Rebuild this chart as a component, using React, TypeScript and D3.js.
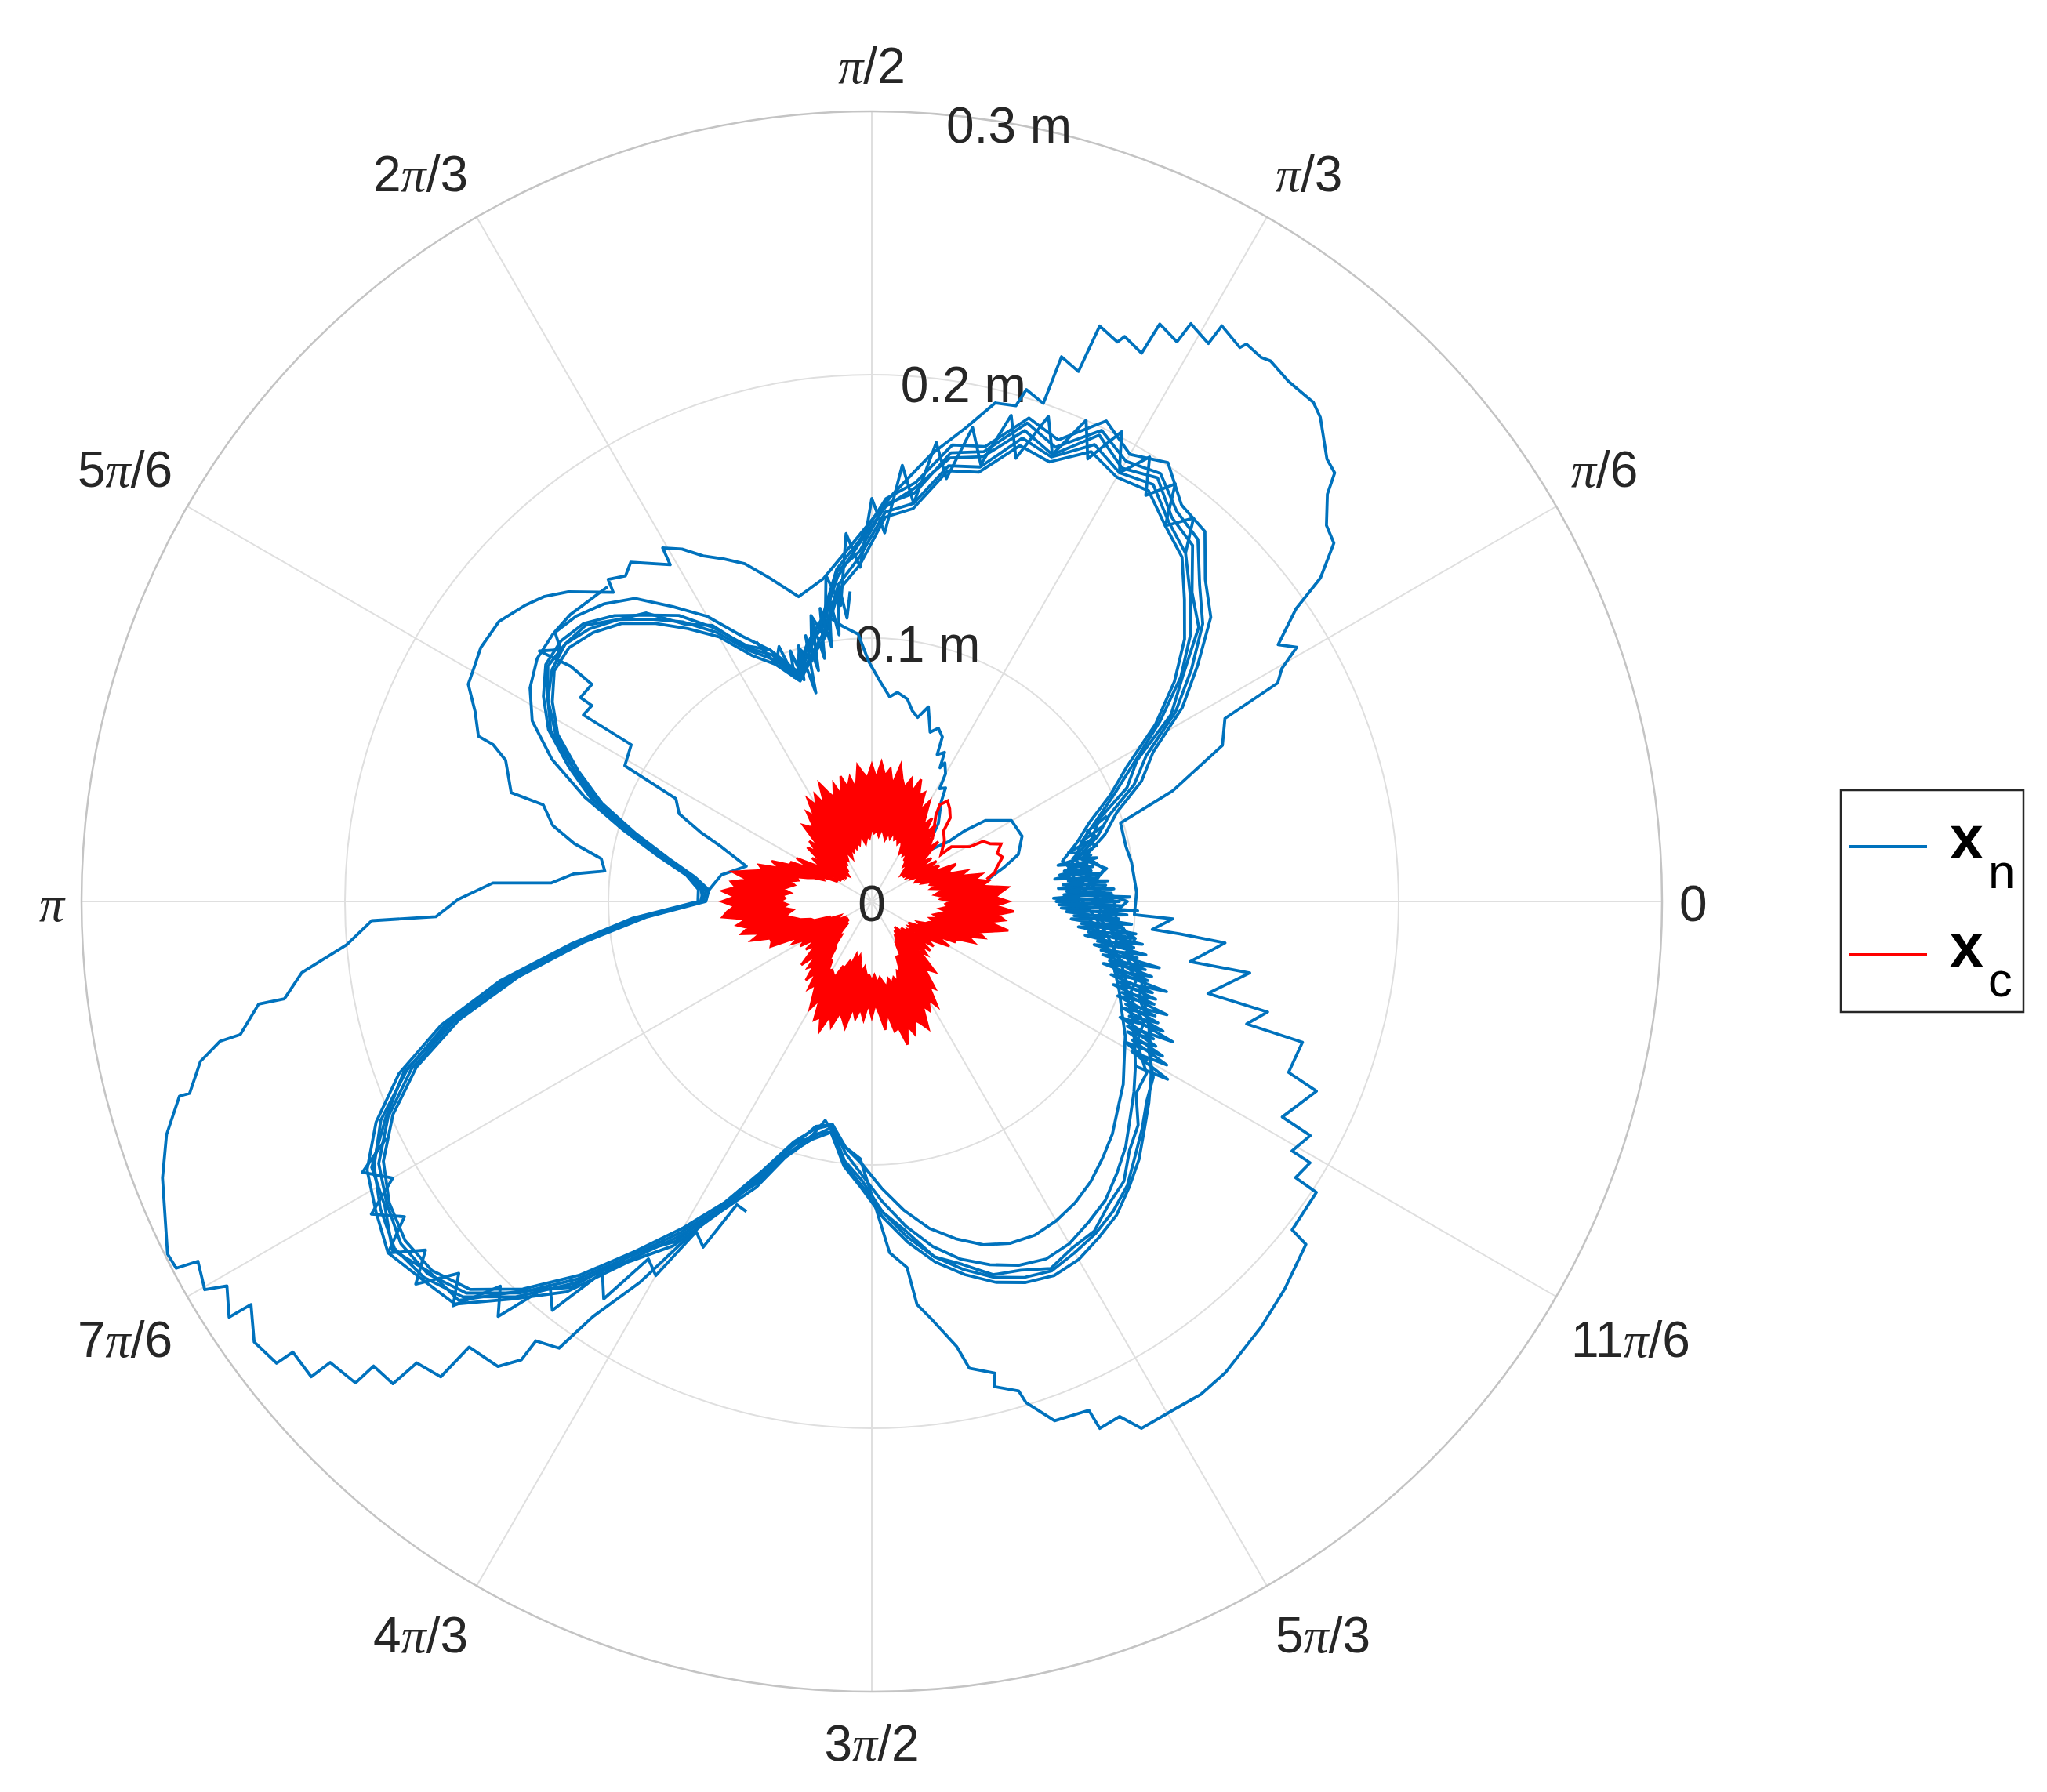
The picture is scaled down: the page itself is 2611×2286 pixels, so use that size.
import React from 'react';
import * as d3 from 'd3';

// ---------- layout ----------
const W = 2611, H = 2286;
const CX = 1112, CY = 1150, R_PX = 1008;

// ---------- axes ----------
const rTicks = [0, 0.1, 0.2, 0.3];
const rTickLabels = ['0', '0.1 m', '0.2 m', '0.3 m'];
const rLabelAngle = 80;
const thetaTicks = [0, 30, 60, 90, 120, 150, 180, 210, 240, 270, 300, 330];
const thetaTickLabels = ['0', 'π/6', 'π/3', 'π/2', '2π/3', '5π/6', 'π', '7π/6', '4π/3', '3π/2', '5π/3', '11π/6'];

// ---------- data (angle in degrees, radius in m) ----------
const bundleAngles = [0,4,8,12,16,20,24,28,32,36,40,44,48,52,56,60,64,68,72,76,80,84,88,92,96,100,104,108,112,116,120,124,128,132,136,140,144,148,152,156,160,164,168,172,176,180,184,188,192,196,200,204,208,212,216,220,224,228,232,236,240,244,248,252,256,260,264,268,272,276,280,284,288,292,296,300,304,308,312,316,320,324,328,332,336,340,344,348,352,356];

const loop1 = [.088,.079,.084,.078,.087,.092,.106,.114,.134,.146,
  .162,.169,.182,.185,.194,.190,.197,.183,.188,.174,
  .171,.158,.150,.136,.124,.108,.098,.090,.101,.107,
  .121,.127,.139,.144,.151,.152,.152,.145,.138,.124,
  .112,.094,.081,.069,.065,.064,.090,.112,.142,.166,
  .189,.202,.215,.218,.225,.219,.218,.199,.186,.161,
  .149,.128,.115,.097,.092,.087,.099,.106,.118,.126,
  .137,.142,.149,.151,.155,.152,.151,.146,.143,.136,
  .132,.124,.123,.114,.113,.104,.105,.094,.094,.086];
const loop2 = [.092,.084,.089,.083,.092,.099,.112,.121,.139,.153,
  .168,.176,.189,.191,.201,.196,.203,.189,.193,.178,
  .176,.160,.153,.137,.127,.109,.101,.092,.103,.112,
  .125,.135,.146,.152,.156,.158,.157,.153,.146,.133,
  .116,.098,.083,.071,.066,.066,.091,.115,.144,.170,
  .191,.206,.217,.222,.227,.223,.220,.203,.188,.165,
  .151,.131,.117,.100,.093,.089,.101,.109,.120,.130,
  .139,.146,.152,.156,.158,.157,.154,.151,.146,.141,
  .135,.130,.125,.120,.115,.110,.108,.101,.099,.093];
const loop3 = [.080,.075,.078,.074,.081,.088,.099,.110,.127,.142,
  .155,.165,.176,.181,.188,.186,.190,.180,.182,.168,
  .166,.150,.146,.128,.119,.102,.095,.088,.097,.104,
  .116,.125,.134,.142,.147,.150,.149,.143,.135,.122,
  .109,.093,.079,.068,.062,.063,.086,.110,.137,.163,
  .184,.199,.210,.216,.219,.218,.212,.198,.180,.160,
  .143,.127,.110,.096,.089,.086,.096,.104,.114,.124,
  .133,.140,.145,.149,.151,.150,.147,.144,.139,.134,
  .128,.123,.118,.113,.108,.103,.100,.095,.090,.085];
const loop4 = [.097,.082,.090,.080,.089,.096,.109,.118,.136,.150,
  .164,.173,.185,.188,.196,.193,.199,.186,.191,.176,
  .173,.156,.151,.133,.126,.106,.100,.091,.103,.108,
  .120,.131,.138,.146,.152,.154,.153,.147,.139,.126,
  .113,.096,.082,.070,.064,.065,.089,.114,.141,.168,
  .188,.204,.214,.220,.224,.222,.216,.202,.184,.164,
  .147,.131,.113,.100,.091,.089,.100,.108,.118,.128,
  .137,.144,.150,.154,.156,.154,.152,.149,.145,.139,
  .134,.129,.126,.119,.116,.108,.107,.098,.101,.090];
const loop5 = [.076,.080,.074,.079,.083,.091,.101,.113,.129,.145,
  .158,.168,.178,.183,.191,.188,.193,.182,.185,.170,
  .168,.152,.148,.131,.121,.104,.096,.089,.099,.106,
  .118,.128,.136,.144,.149,.152,.150,.145,.136,.124,
  .110,.094,.080,.069,.063,.064,.087,.112,.139,.165,
  .186,.201,.212,.217,.221,.220,.214,.200,.182,.162,
  .145,.129,.111,.098,.088,.086,.094,.100,.109,.118,
  .126,.132,.137,.140,.141,.140,.138,.135,.131,.127,
  .122,.118,.113,.109,.104,.100,.096,.092,.088,.082];

// dense jitter of the bundle around 0 rad
const noiseA: [number, number][] = [
  [328,.118],[329,.131],[330,.114],[331,.128],[332,.112],[333,.121],[334,.108],[335,.126],[336,.107],[337,.118],
  [338,.104],[339,.120],[340,.101],[341,.114],[342,.098],[343,.117],[344,.096],[345,.110],[346,.093],[347,.112],
  [348,.089],[349,.106],[350,.087],[351,.104],[352,.083],[353,.101],[354,.080],[355,.099],[356,.077],[357,.097],
  [358,.072],[359,.095],[0,.070],[1,.098],[2,.073],[3,.092],[4,.071],[5,.090],[6,.075],[7,.088],
  [8,.072],[9,.085],[10,.076],[11,.087],[12,.079],[14,.088],[16,.083],[18,.092]
];
const noiseB: [number, number][] = [
  [330,.121],[331,.110],[332,.125],[333,.109],[334,.119],[335,.104],[336,.121],[337,.103],[338,.116],[339,.100],
  [340,.114],[341,.097],[342,.112],[343,.095],[344,.109],[345,.091],[346,.107],[347,.090],[348,.103],[349,.086],
  [350,.101],[351,.082],[352,.100],[353,.079],[354,.096],[355,.076],[356,.094],[357,.074],[358,.101],[359,.071],
  [0,.094],[1,.069],[2,.091],[3,.074],[4,.089],[5,.073],[6,.086],[7,.070],[8,.084],[9,.074],
  [10,.083],[11,.072],[12,.085],[14,.077],[16,.089],[18,.086],[20,.095]
];
// jitter along the upper-right arc, the upper junction and the lower-left arc
const noiseC: [number, number][] = [
  [48,.178],[50,.190],[52,.181],[54,.196],[56,.186],[58,.199],[60,.188],[62,.202],[64,.187],[66,.200],
  [68,.183],[70,.196],[72,.177],[74,.192],[76,.171],[78,.184],[80,.163],[82,.176],[84,.152],[86,.166],
  [88,.140],[90,.153],[92,.127],[94,.140],[96,.113],[98,.125],[100,.102],[102,.111],[104,.094],[106,.100],[108,.091]
];
const noiseE: [number, number][] = [
  [94,.118],[95,.108],[96,.121],[97,.102],[98,.117],[99,.098],[100,.113],[101,.094],[102,.109],[103,.090],
  [104,.104],[105,.082],[106,.101],[107,.088],[108,.100],[109,.090],[110,.103],[112,.097],[114,.108]
];
const noiseD: [number, number][] = [
  [206,.205],[208,.219],[210,.210],[212,.224],[214,.214],[216,.227],[218,.215],[220,.226],[222,.211],[224,.221],
  [226,.203],[228,.212],[230,.190],[232,.197],[234,.174],[236,.182],[238,.160],[240,.164],[242,.142],[244,.146],
  [246,.126],[248,.127]
];

// outer transient loop of x_n
const outerLoop: [number, number][] = [
  [98.5,.124],[103.5,.119],[107.6,.129],[110.6,.137],[113.3,.1416],[116,.146],[118.3,.152],[120.6,.156],[120.9,.149],[125.4,.158],[127.1,.155],[129.3,.158],[129.9,.153],
  [134.4,.1646],[137.1,.170],[139.4,.173],[143.1,.177],[147,.177],[149.8,.175],[151.7,.174],[154.4,.167],[157.2,.162],[157.5,.1556],[158.9,.149],[163.2,.143],[163.6,.130],[166.6,.1245],[169,.115],[171,.104],[173.5,.102],[174.7,.1136],[176.7,.122],[177.2,.144],[179.7,.157],[182,.1656],[182.2,.19],
  [184.7,.200],[187.1,.218],[189.4,.226],[189.5,.236],[191.9,.245],[192.1,.253],[193.4,.262],[195.7,.269],[195.7,.273],[198.3,.282],[201.3,.289],[206.6,.299],[207.8,.2985],[208.1,.290],[210.2,.293],[210.8,.285],[212.9,.2906],[213,.281],[215.5,.288],[217.8,.286],[217.9,.2785],[220.3,.279],[220.4,.270],[223,.268],[223,.2586],[225.2,.258],[225.4,.246],[227.8,.2436],[227.9,.228],[231.2,.2265],[232.6,.219],[232.6,.210],[235,.207],[236.1,.190],[238.7,.169],[240.7,.150],[245,.123],[249.6,.107],[254.7,.095],[258,.085],
  [262,.092],[267.4,.0977],[270.7,.116],[272.9,.1335],[275.5,.1396],[276.4,.154],[278.1,.160],[280.8,.172],[281.8,.181],[284.6,.185],[284.2,.190],[286.7,.194],[287.1,.199],[289.4,.209],[293.1,.210],[293.4,.218],[295.7,.217],[297.1,.2247],[300.6,.2244],[303.7,.225],[306.9,.2236],[312.4,.219],[316.8,.215],[321.7,.210],[322,.2025],[326.8,.2017],[326.9,.192],[329.2,.1937],[329.3,.1855],[331.9,.1887],[332.3,.176],[336.9,.1835],[337.7,.171],[341.9,.172],[341.9,.1497],[344.4,.156],[344.7,.1323],[349.3,.146],[349.3,.123],[353.3,.135],[354,.1176],[354.3,.107],[356.7,.1145],[357.1,.0998],
  [2,.1006],[8.6,.0997],[12.2,.0987],[17.5,.099],[20.2,.1218],[24,.1457],[27.4,.151],[28.3,.175],[29.6,.179],[30.9,.188],[32.3,.1825],[34.6,.1956],[35.8,.210],[37.8,.222],[39.6,.224],[41.8,.232],[42.8,.2395],[44.2,.241],[47.2,.2506],[48.5,.253],[51.3,.253],[53.6,.255],[54.4,.254],[56.1,.255],[56.4,.2525],[58.7,.2558],[58.9,.2474],[61.1,.2506],[61.4,.242],[63.5,.245],[63.8,.232],[65.9,.235],[66.3,.232],[68.4,.235],[68.7,.216],[70.8,.219],[71,.200],[73.2,.203],[73.8,.196],[76.1,.195],[78.7,.1836],[82.4,.1714],[87,.155],[92,.139],[98.5,.124]
];

// start of x_n near the centre
const startPath: [number, number][] = [
  [10.8,.0449],[14.4,.0517],[17.8,.0584],[23.5,.0622],[30.1,.0613],[32.6,.0571],[35.5,.053],[37.3,.0442],[37.9,.0371],[42.8,.0277],
  [49.6,.039],[55.1,.046],[57,.0514],[59,.050],[60,.056],[62.2,.0595],[63,.057],[64,.063],[66,.061],[66.8,.068],[69,.0705],[71,.068],
  [73.8,.077],[76,.072],[78,.074],[80,.078],[83,.080],[85,.078],[88,.084],[90.7,.091],[92.9,.1016],[96,.105],[99.6,.111]
];

// chord in the upper-left lobe
const chordPath: [number, number][] = [
  [130,.156],[136.4,.158],[139.6,.158],[141,.152],[143,.158],[142,.145],[142.2,.1345],[145,.135],[145,.1297],[147.1,.1304],
  [146.9,.109],[151.2,.107],[151.5,.100],[152.3,.084],[155.5,.0804],[158,.070],[160,.0608],[164.3,.0495],[170,.058],[176,.062]
];

// x_c : outer and inner edges of the band
const redAngles = [0,2,4,6,8,10,12,14,16,18,20,22,24,26,28,30,32,34,36,38,40,42,44,46,48,50,52,54,56,58,60,62,64,66,68,70,72,74,76,78,80,82,84,86,88,90,92,94,96,98,100,102,104,106,108,110,112,114,116,118,120,122,124,126,128,130,132,134,136,138,140,142,144,146,148,150,152,154,156,158,160,162,164,166,168,170,172,174,176,178,180,182,184,186,188,190,192,194,196,198,200,202,204,206,208,210,212,214,216,218,220,222,224,226,228,230,232,234,236,238,240,242,244,246,248,250,252,254,256,258,260,262,264,266,268,270,272,274,276,278,280,282,284,286,288,290,292,294,296,298,300,302,304,306,308,310,312,314,316,318,320,322,324,326,328,330,332,334,336,338,340,342,344,346,348,350,352,354,356,358];
const redOuter = [.052,.047,.049,.052,.042,.045,.040,.043,.035,.038,
  .031,.032,.035,.025,.029,.025,.029,.022,.028,.024,
  .028,.034,.027,.033,.032,.038,.033,.039,.035,.039,
  .044,.039,.046,.044,.050,.044,.049,.045,.048,.053,
  .045,.051,.048,.053,.047,.052,.047,.049,.052,.043,
  .048,.044,.049,.042,.047,.042,.045,.049,.041,.046,
  .042,.046,.039,.042,.036,.037,.039,.029,.033,.028,
  .032,.024,.028,.023,.027,.033,.027,.034,.034,.041,
  .037,.045,.043,.048,.054,.048,.054,.052,.057,.052,
  .057,.052,.055,.057,.048,.052,.048,.051,.044,.048,
  .041,.041,.042,.031,.034,.029,.032,.025,.031,.027,
  .031,.036,.029,.035,.033,.039,.034,.041,.038,.042,
  .047,.042,.050,.048,.053,.046,.050,.044,.046,.049,
  .041,.045,.041,.045,.039,.044,.039,.043,.049,.043,
  .050,.049,.056,.049,.053,.048,.050,.053,.044,.047,
  .043,.047,.039,.041,.033,.034,.036,.026,.029,.025,
  .029,.023,.029,.025,.029,.034,.028,.035,.035,.042,
  .039,.045,.042,.047,.053,.045,.051,.048,.054,.047];
const redInner = [.030,.026,.027,.024,.026,.027,.023,.025,.023,.024,
  .020,.021,.018,.019,.020,.017,.018,.016,.018,.015,
  .017,.015,.017,.020,.018,.020,.020,.023,.021,.023,
  .021,.024,.026,.024,.026,.025,.028,.025,.027,.024,
  .026,.028,.025,.027,.026,.028,.024,.025,.022,.024,
  .025,.022,.023,.021,.023,.020,.022,.018,.020,.021,
  .018,.019,.017,.018,.015,.016,.013,.014,.016,.013,
  .015,.014,.017,.014,.017,.015,.018,.021,.020,.024,
  .026,.030,.029,.032,.030,.032,.034,.031,.034,.033,
  .035,.032,.034,.030,.032,.033,.030,.028,.024,.023,
  .017,.017,.013,.014,.015,.012,.013,.011,.013,.011,
  .014,.012,.015,.018,.017,.021,.022,.027,.027,.031,
  .030,.031,.032,.027,.027,.024,.025,.021,.023,.021,
  .024,.027,.025,.028,.028,.030,.028,.031,.029,.031,
  .033,.030,.032,.030,.032,.028,.029,.023,.023,.023,
  .018,.018,.016,.017,.014,.016,.013,.015,.018,.015,
  .018,.017,.020,.017,.019,.016,.019,.021,.019,.022,
  .023,.025,.023,.026,.024,.026,.029,.026,.029,.028];
const redPetal: [number, number][] = [
  [40.6,.0275],[47,.034],[53.4,.0408],[54.9,.0449],[53,.0478],[50,.046],[46.8,.0435],[44.5,.0382],[40,.036],[34.2,.0318],
  [34.5,.0367],[29.2,.0426],[28.4,.048],[26,.050],[24,.0537],[21,.051],[18.8,.0524],[15,.049],[13.2,.0479],[10.9,.0444]
];

const legendItems = [
  { sym: 'x', sub: 'n', color: '#0072BD' },
  { sym: 'x', sub: 'c', color: '#FF0000' },
];

// ---------- helpers ----------
const rScale = d3.scaleLinear().domain([0, 0.3]).range([0, R_PX]);
const rad = (deg: number) => (deg * Math.PI) / 180;
const lineOpen = d3.lineRadial<[number, number]>()
  .angle(d => Math.PI / 2 - rad(d[0]))
  .radius(d => rScale(d[1]));
const lineClosed = d3.lineRadial<[number, number]>()
  .angle(d => Math.PI / 2 - rad(d[0]))
  .radius(d => rScale(d[1]))
  .curve(d3.curveLinearClosed);
const zipPts = (angles: number[], rs: number[]) => angles.map((a, i) => [a, rs[i]] as [number, number]);

const FONT = '"Liberation Sans", Arial, Helvetica, sans-serif';
const TXT = '#262626';
const FS = 64;
const BLUE = '#0072BD';
const RED = '#FF0000';

function PiText({ text, x, y, anchor }: { text: string; x: number; y: number; anchor: string }) {
  const parts = text.split('π');
  return (
    <text x={x} y={y} textAnchor={anchor} fontFamily={FONT} fontSize={FS} fill={TXT}>
      {parts.length === 1 ? text : (
        <>
          {parts[0]}
          <tspan fontFamily='"Liberation Serif", "Times New Roman", serif' fontStyle="italic">π</tspan>
          {parts[1]}
        </>
      )}
    </text>
  );
}

export default function App() {
  const loops = [loop1, loop2, loop3, loop4, loop5];
  const noises = [noiseA, noiseB, noiseC, noiseD, noiseE];
  const LABEL_R = 1030;
  const redBand = (lineClosed(zipPts(redAngles, redOuter)) || '') + (lineClosed(zipPts(redAngles, redInner)) || '');

  return (
    <svg width={W} height={H} viewBox={`0 0 ${W} ${H}`}
      style={{ position: 'absolute', left: 0, top: 0, background: '#fff' }}>
      <rect x={0} y={0} width={W} height={H} fill="#fff" />
      <g transform={`translate(${CX},${CY})`}>
        {/* spokes */}
        {thetaTicks.map(t => (
          <line key={'s' + t} x1={0} y1={0}
            x2={rScale(0.3) * Math.cos(rad(t))} y2={-rScale(0.3) * Math.sin(rad(t))}
            stroke="#dfdfdf" strokeWidth={2} />
        ))}
        {/* circles */}
        {rTicks.filter(v => v > 0).map(v => (
          <circle key={'c' + v} r={rScale(v)} fill="none"
            stroke={v === 0.3 ? '#c4c4c4' : '#dfdfdf'} strokeWidth={v === 0.3 ? 2.5 : 2} />
        ))}
        {/* theta tick labels */}
        {thetaTicks.map((t, i) => {
          const c = Math.cos(rad(t)), s = Math.sin(rad(t));
          const px = LABEL_R * c, py = -LABEL_R * s;
          const anchor = c > 0.01 ? 'start' : c < -0.01 ? 'end' : 'middle';
          const by = s > 0.01 ? py - 14 : s < -0.01 ? py + 66 : py + 25;
          return <PiText key={'t' + t} text={thetaTickLabels[i]} x={px} y={by} anchor={anchor} />;
        })}
        {/* r tick labels */}
        {rTicks.map((v, i) => {
          const rr = rScale(v);
          return (
            <text key={'r' + v} x={rr * Math.cos(rad(rLabelAngle))} y={-rr * Math.sin(rad(rLabelAngle)) + 25}
              textAnchor="middle" fontFamily={FONT} fontSize={FS} fill={TXT}>{rTickLabels[i]}</text>
          );
        })}

        {/* x_n */}
        <g fill="none" stroke={BLUE} strokeWidth={3.8} strokeLinejoin="round">
          {loops.map((l, i) => <path key={'l' + i} d={lineClosed(zipPts(bundleAngles, l)) || ''} />)}
          {noises.map((n, i) => <path key={'n' + i} d={lineOpen(n) || ''} />)}
          <path d={lineOpen(outerLoop) || ''} />
          <path d={lineOpen(startPath) || ''} />
          <path d={lineOpen(chordPath) || ''} />
        </g>

        {/* x_c */}
        <path d={redBand} fill={RED} fillRule="evenodd" stroke={RED} strokeWidth={3} strokeLinejoin="miter" />
        <path d={lineOpen(redPetal) || ''} fill="none" stroke={RED} strokeWidth={3.8} />
      </g>

      {/* legend */}
      <rect x={2348} y={1008} width={233} height={283} fill="#fff" stroke="#262626" strokeWidth={2.5} />
      {legendItems.map((it, i) => {
        const y = 1080 + i * 138;
        return (
          <g key={'lg' + i}>
            <line x1={2358} x2={2458} y1={y} y2={y} stroke={it.color} strokeWidth={4} />
            <text x={2487} y={y + 15} fontFamily={FONT} fontWeight="bold" fontSize={77} fill="#000">{it.sym}</text>
            <text x={2536} y={y + 53} fontFamily={FONT} fontSize={62} fill="#000">{it.sub}</text>
          </g>
        );
      })}
    </svg>
  );
}
